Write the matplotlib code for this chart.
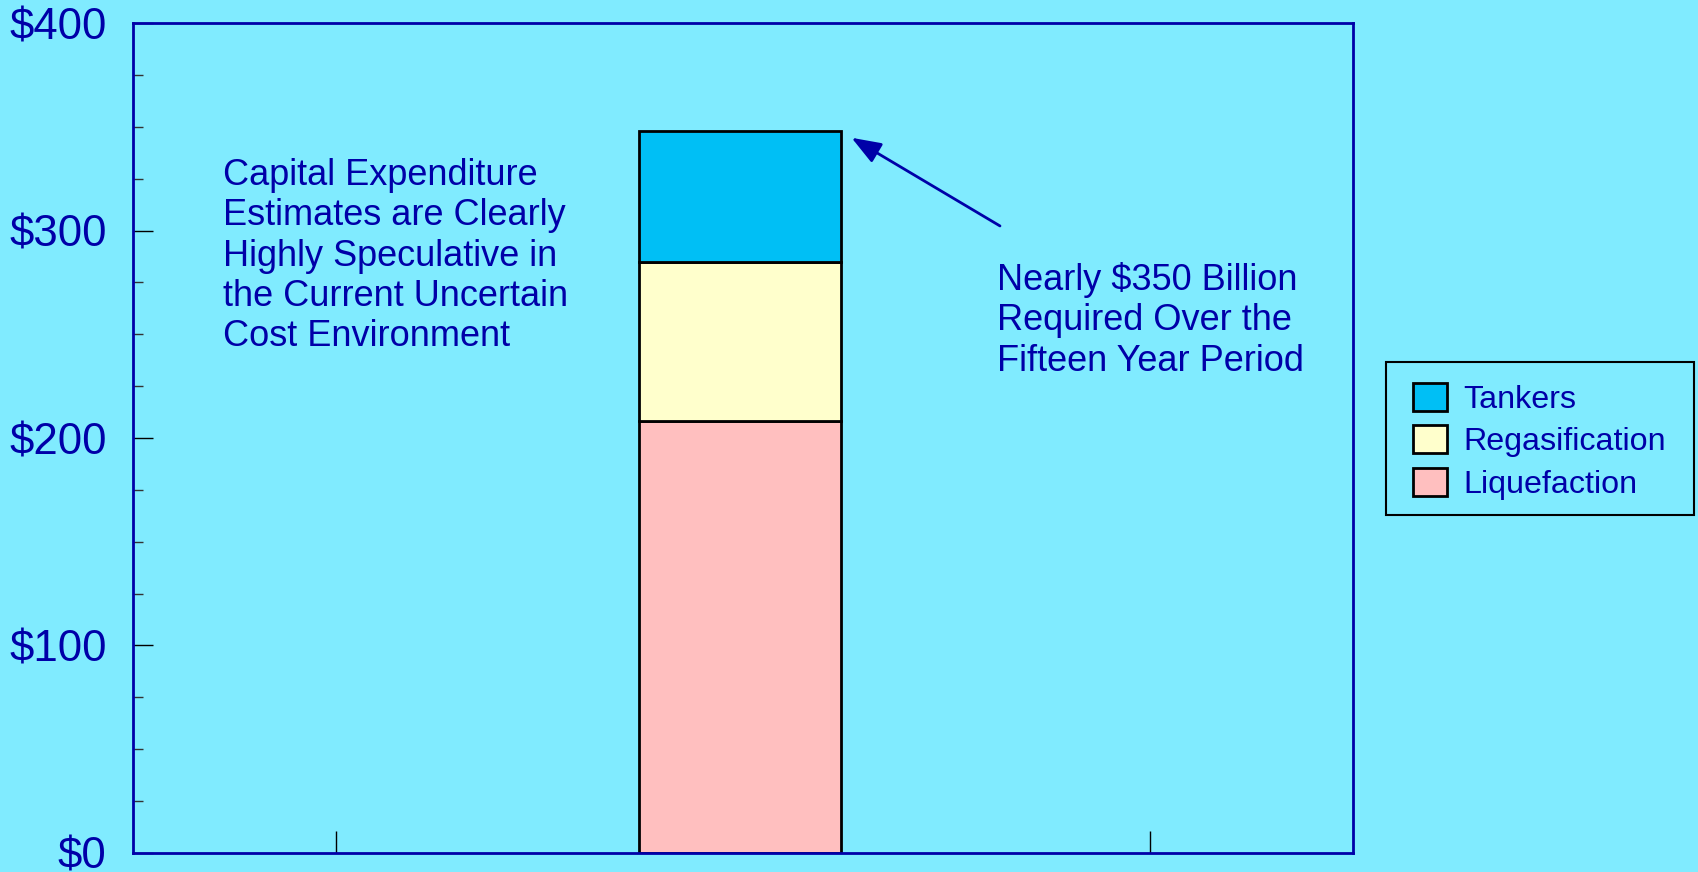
import matplotlib
matplotlib.use("Agg")
import matplotlib.pyplot as plt
from matplotlib.patches import Rectangle
from matplotlib.ticker import MultipleLocator, FuncFormatter

plt.rcParams['font.family'] = ['Liberation Sans', 'DejaVu Sans']

# LNG capital expenditure, $ billions, one stacked column
segments = ["Liquefaction", "Regasification", "Tankers"]
values = [208, 77, 63]
seg_colors = ["#FFBFBF", "#FFFFCC", "#00BFF5"]
x_ticks = [0.5, 1.5, 2.5]
bar_x = 1.5
y_ticks = [0, 100, 200, 300, 400]

BG = "#80EBFF"
NAVY = "#0000A8"

fig = plt.figure(figsize=(16.98, 8.72), dpi=100, facecolor=BG)
ax = fig.add_axes([0.0783, 0.0218, 0.7185, 0.9518])
ax.set_facecolor(BG)

bottom = 0
handles = []
for name, val, col in zip(segments, values, seg_colors):
    h = ax.bar(bar_x - 0.007, val, width=0.497, bottom=bottom, color=col,
               edgecolor="black", linewidth=2, label=name, zorder=3)
    handles.append(h)
    bottom += val

ax.set_xlim(0, 3)
ax.set_ylim(0, 400)
ax.set_xticks(x_ticks)
ax.set_xticklabels([])
ax.set_yticks(y_ticks)
ax.yaxis.set_major_formatter(FuncFormatter(lambda v, p: f"${v:.0f}"))
ax.yaxis.set_minor_locator(MultipleLocator(25))

ax.tick_params(axis="y", which="major", direction="in", length=14.5, width=1,
               color="black", labelsize=31.5, labelcolor=NAVY, pad=19)
ax.tick_params(axis="y", which="minor", direction="in", length=7.2, width=1,
               color="#333333")
ax.tick_params(axis="x", which="major", direction="in", length=15.5, width=1,
               color="black")

for sp in ax.spines.values():
    sp.set_color(NAVY)
    sp.set_linewidth(2)
    sp.set_zorder(4)

ax.text(0.0735, 0.837,
        "Capital Expenditure\nEstimates are Clearly\nHighly Speculative in\n"
        "the Current Uncertain\nCost Environment",
        transform=ax.transAxes, ha="left", va="top", fontsize=26,
        color=NAVY, linespacing=1.19)

ax.text(0.708, 0.712,
        "Nearly $350 Billion\nRequired Over the\nFifteen Year Period",
        transform=ax.transAxes, ha="left", va="top", fontsize=26,
        color=NAVY, linespacing=1.2)

# arrow pointing at the top of the column
ax.annotate("", xy=(1.767, 344.7), xytext=(2.132, 302.2),
            arrowprops=dict(arrowstyle="-|>,head_length=0.4,head_width=0.15",
                            mutation_scale=45, color=NAVY, lw=2,
                            shrinkA=0, shrinkB=0))

# legend entries without their own frame; box drawn separately
leg = fig.legend(handles[::-1], segments[::-1],
                 loc="upper left", bbox_to_anchor=(1413 / 1698, 1 - 383 / 872),
                 bbox_transform=fig.transFigure, borderaxespad=0,
                 fontsize=23.2, frameon=False,
                 handlelength=1.05, handleheight=0.96, handletextpad=0.5,
                 labelspacing=0.32, borderpad=0)
for t in leg.get_texts():
    t.set_color(NAVY)

fig.patches.append(Rectangle((1386 / 1698, 1 - 515 / 872), 308 / 1698, 153 / 872,
                             transform=fig.transFigure, facecolor="none",
                             edgecolor="black", linewidth=1.5))

fig.savefig("out.png", dpi=100, facecolor=BG)
